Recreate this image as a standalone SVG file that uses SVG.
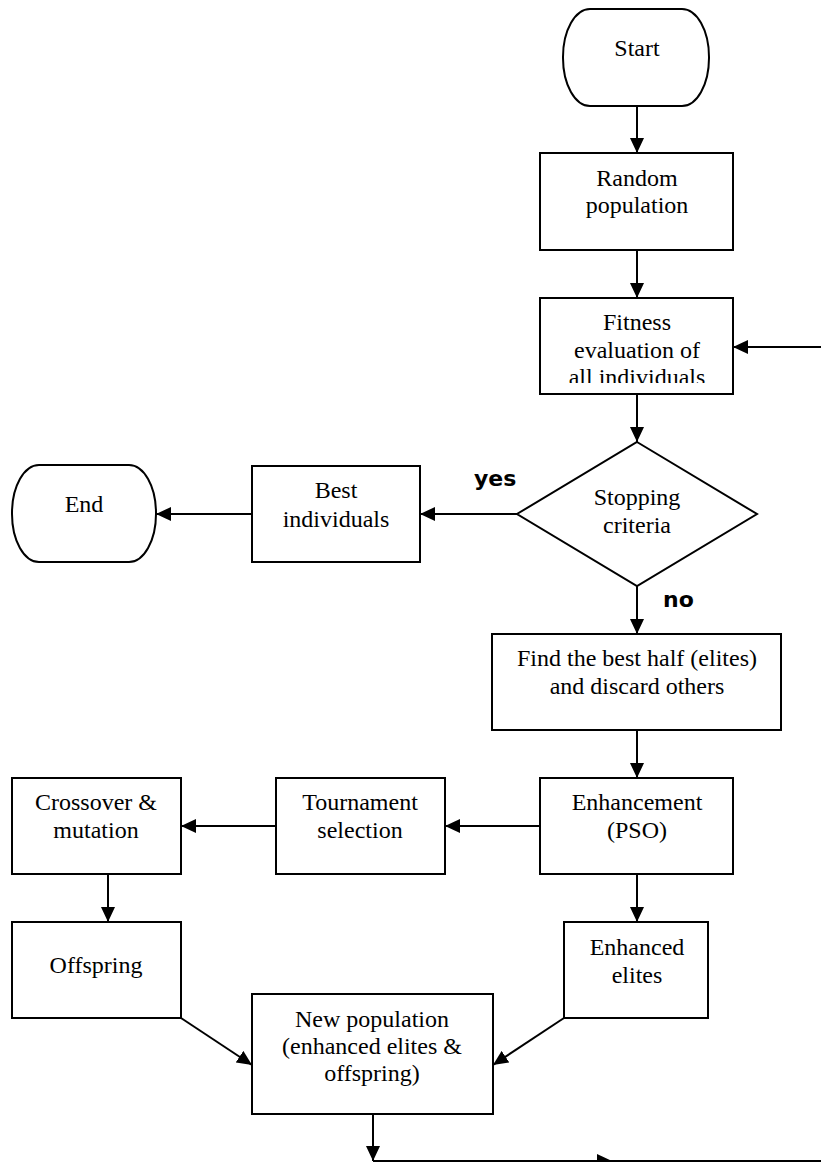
<svg xmlns="http://www.w3.org/2000/svg" width="821" height="1162" viewBox="0 0 821 1162">
<style>
.shape{fill:#fff;stroke:#000;stroke-width:2}
.t{font-family:"Liberation Serif","Times New Roman",serif;font-size:24px;fill:#000;text-anchor:middle}
.lbl{font-family:"DejaVu Sans",sans-serif;font-weight:bold;font-size:22px;fill:#000}
.c{stroke:#000;stroke-width:2;fill:none}
</style>
<defs>
<marker id="ah" markerUnits="userSpaceOnUse" markerWidth="16" markerHeight="14" refX="15" refY="7" orient="auto">
<path d="M0,0 L15,7 L0,14 Z" fill="#000"/>
</marker>
<clipPath id="fitclip"><rect x="540" y="298" width="193" height="85"/></clipPath>
</defs>
<rect width="821" height="1162" fill="#fff"/>
<g id="connectors">
<line class="c" x1="637" y1="106" x2="637" y2="153" marker-end="url(#ah)"/>
<line class="c" x1="637" y1="250" x2="637" y2="298" marker-end="url(#ah)"/>
<line class="c" x1="637" y1="394" x2="637" y2="442" marker-end="url(#ah)"/>
<line class="c" x1="821" y1="347" x2="733" y2="347" marker-end="url(#ah)"/>
<line class="c" x1="517" y1="514" x2="420" y2="514" marker-end="url(#ah)"/>
<line class="c" x1="252" y1="514" x2="156" y2="514" marker-end="url(#ah)"/>
<line class="c" x1="637" y1="586" x2="637" y2="634" marker-end="url(#ah)"/>
<line class="c" x1="637" y1="730" x2="637" y2="778" marker-end="url(#ah)"/>
<line class="c" x1="540" y1="826" x2="445" y2="826" marker-end="url(#ah)"/>
<line class="c" x1="276" y1="826" x2="181" y2="826" marker-end="url(#ah)"/>
<line class="c" x1="108" y1="874" x2="108" y2="922" marker-end="url(#ah)"/>
<line class="c" x1="637" y1="874" x2="637" y2="922" marker-end="url(#ah)"/>
<line class="c" x1="181" y1="1018" x2="252" y2="1065" marker-end="url(#ah)"/>
<line class="c" x1="564" y1="1018" x2="493" y2="1065" marker-end="url(#ah)"/>
<line class="c" x1="373" y1="1114" x2="373" y2="1161" marker-end="url(#ah)"/>
<line class="c" x1="373" y1="1161" x2="612" y2="1161" marker-end="url(#ah)"/>
<line class="c" x1="612" y1="1161" x2="821" y2="1161"/>
<text class="lbl" x="474" y="486">yes</text>
<text class="lbl" x="663" y="607">no</text>
</g>
<g id="start">
<rect class="shape" x="563" y="9" width="146" height="97" rx="27" ry="48"/>
<text class="t" x="637" y="56">Start</text>
</g>
<g id="random">
<rect class="shape" x="540" y="153" width="193" height="97"/>
<text class="t" x="637" y="186">Random</text>
<text class="t" x="637" y="213">population</text>
</g>
<g id="fitness">
<rect class="shape" x="540" y="298" width="193" height="96"/>
<g clip-path="url(#fitclip)">
<text class="t" x="637" y="330">Fitness</text>
<text class="t" x="637" y="358">evaluation of</text>
<text class="t" x="637" y="385">all individuals</text>
</g>
</g>
<g id="stopping">
<polygon class="shape" points="637,442 757,514 637,586 517,514"/>
<text class="t" x="637" y="505">Stopping</text>
<text class="t" x="637" y="533">criteria</text>
</g>
<g id="best">
<rect class="shape" x="252" y="466" width="168" height="96"/>
<text class="t" x="336" y="498">Best</text>
<text class="t" x="336" y="527">individuals</text>
</g>
<g id="end">
<rect class="shape" x="12" y="465" width="144" height="97" rx="27" ry="48"/>
<text class="t" x="84" y="512">End</text>
</g>
<g id="find">
<rect class="shape" x="492" y="634" width="289" height="96"/>
<text class="t" x="637" y="666">Find the best half (elites)</text>
<text class="t" x="637" y="694">and discard others</text>
</g>
<g id="enhancement">
<rect class="shape" x="540" y="778" width="193" height="96"/>
<text class="t" x="637" y="810">Enhancement</text>
<text class="t" x="637" y="838">(PSO)</text>
</g>
<g id="tournament">
<rect class="shape" x="276" y="778" width="169" height="96"/>
<text class="t" x="360" y="810">Tournament</text>
<text class="t" x="360" y="838">selection</text>
</g>
<g id="crossover">
<rect class="shape" x="12" y="778" width="169" height="96"/>
<text class="t" x="96" y="810">Crossover &amp;</text>
<text class="t" x="96" y="838">mutation</text>
</g>
<g id="offspring">
<rect class="shape" x="12" y="922" width="169" height="96"/>
<text class="t" x="96" y="973">Offspring</text>
</g>
<g id="enhanced-elites">
<rect class="shape" x="564" y="922" width="144" height="96"/>
<text class="t" x="637" y="955">Enhanced</text>
<text class="t" x="637" y="983">elites</text>
</g>
<g id="new-population">
<rect class="shape" x="252" y="994" width="241" height="120"/>
<text class="t" x="372" y="1027">New population</text>
<text class="t" x="372" y="1054">(enhanced elites &amp;</text>
<text class="t" x="372" y="1081">offspring)</text>
</g>
</svg>
